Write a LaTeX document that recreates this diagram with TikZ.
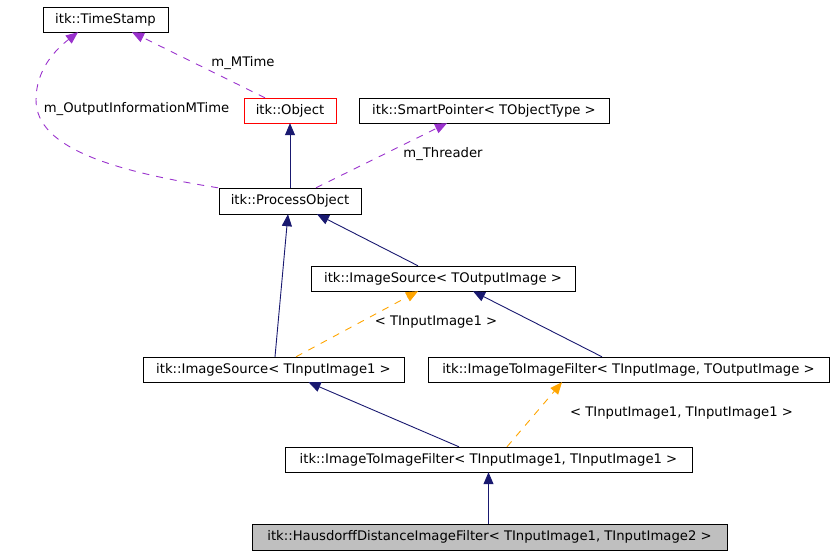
\documentclass[tikz,border=0pt]{standalone}
\usepackage{fontspec}
\setmainfont{DejaVu Sans}
\usepackage{xcolor}
\usetikzlibrary{arrows.meta}
\definecolor{inheritblue}{RGB}{25,25,112}
\definecolor{usepurple}{RGB}{154,50,205}
\definecolor{tmplorange}{RGB}{255,165,0}
\definecolor{boxred}{RGB}{255,0,0}
\definecolor{boxgray}{RGB}{191,191,191}

\begin{document}
\begin{tikzpicture}[x=1pt, y=-1pt,
  cls/.style={draw, rectangle, minimum height=25pt, inner sep=2pt, font=\fontsize{13.2}{15}\selectfont},
  lbl/.style={inner sep=0pt, font=\fontsize{13.2}{15}\selectfont},
  inherit/.style={inheritblue, line width=0.9pt, -{Triangle[length=12pt, width=10pt]}},
  usage/.style={usepurple, line width=0.9pt, dash pattern=on 7pt off 7pt, -{Triangle[length=12pt, width=10pt]}},
  tmpl/.style={tmplorange, line width=0.9pt, dash pattern=on 7pt off 7pt, -{Triangle[length=12pt, width=10pt]}}]
  \useasboundingbox (0,0) rectangle (833,555);

  % classes
  \node[cls, minimum width=125pt] (ts) at (105.5,19.5) {itk::TimeStamp};
  \node[cls, draw=boxred, minimum width=92pt] (obj) at (290,110.5) {itk::Object};
  \node[cls, minimum width=250pt] (sp) at (484,110.5) {itk::SmartPointer< TObjectType >};
  \node[cls, minimum width=142pt, minimum height=26pt] (po) at (290,201) {itk::ProcessObject};
  \node[cls, minimum width=264pt] (isout) at (443,278.5) {itk::ImageSource< TOutputImage >};
  \node[cls, minimum width=261pt] (isin) at (273.5,369.5) {itk::ImageSource< TInputImage1 >};
  \node[cls, minimum width=401pt] (itifgen) at (628.5,369.5) {itk::ImageToImageFilter< TInputImage, TOutputImage >};
  \node[cls, minimum width=407pt] (itifone) at (488.5,459.5) {itk::ImageToImageFilter< TInputImage1, TInputImage1 >};
  \node[cls, fill=boxgray, minimum width=475pt, minimum height=26pt] (haus) at (489.5,537) {itk::HausdorffDistanceImageFilter< TInputImage1, TInputImage2 >};

  % inheritance
  \draw[inherit] (po.north) -- (obj.south);
  \draw[inherit] ([xshift=-25pt]isout.north) -- ([xshift=27pt]po.south);
  \draw[inherit] ([xshift=1.5pt]isin.north) -- ([xshift=-2pt]po.south);
  \draw[inherit] ([xshift=-26.5pt]itifgen.north) -- ([xshift=30pt]isout.south);
  \draw[inherit] ([xshift=-29.5pt]itifone.north) -- ([xshift=35pt]isin.south);
  \draw[inherit] (itifone.south |- haus.north) -- (itifone.south);

  % template instances
  \draw[tmpl] ([xshift=22.5pt]isin.north) -- ([xshift=-25pt]isout.south);
  \draw[tmpl] ([xshift=18.5pt]itifone.north) -- ([xshift=-66.5pt]itifgen.south);
  \node[lbl] (tplone) at (436,322) {< TInputImage1 >};
  \node[lbl] (tpltwo) at (681.5,413) {< TInputImage1, TInputImage1 >};

  % members
  \draw[usage] ([xshift=-25pt]obj.north) -- ([xshift=26.5pt]ts.south);
  \draw[usage] ([xshift=-72pt]po.north) .. controls (120,172) and (36,150) .. (36,100)
    .. controls (36,70) and (55,50) .. ([xshift=-27.5pt]ts.south);
  \draw[usage] ([xshift=26pt]po.north) -- ([xshift=-37pt]sp.south);
  \node[lbl] (mtime) at (243,63) {m\_MTime};
  \node[lbl] (outmtime) at (136.5,109) {m\_OutputInformationMTime};
  \node[lbl] (threader) at (443,154) {m\_Threader};
\end{tikzpicture}
\end{document}
